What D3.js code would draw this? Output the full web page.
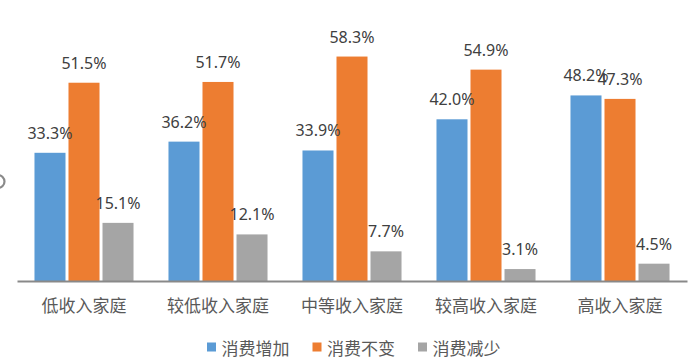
<!DOCTYPE html>
<html>
<head>
<meta charset="utf-8">
<script src="https://cdn.jsdelivr.net/npm/d3@7"></script>
<style>
  html, body { margin: 0; padding: 0; background: #fff; }
  svg { display: block; }
</style>
</head>
<body>
<svg id="chart" width="699" height="360"></svg>
<script>
const categories = ["低收入家庭", "较低收入家庭", "中等收入家庭", "较高收入家庭", "高收入家庭"];
const seriesNames = ["消费增加", "消费不变", "消费减少"];
const increase = [33.3, 36.2, 33.9, 42.0, 48.2];
const unchanged = [51.5, 51.7, 58.3, 54.9, 47.3];
const decrease = [15.1, 12.1, 7.7, 3.1, 4.5];
const colors = ["#5B9BD5", "#ED7D31", "#A5A5A5"];

const seriesValues = [increase, unchanged, decrease];
const data = categories.map((c, i) => ({
  category: c,
  values: seriesNames.map((s, j) => ({ series: s, value: seriesValues[j][i], color: colors[j] }))
}));

const svg = d3.select("#chart");
const left = 17, right = 687, baseY = 281, topY = 11.5;

const x0 = d3.scaleBand().domain(categories).range([left, right]).padding(0);
const x1 = d3.scaleBand().domain(seriesNames).range([0, x0.bandwidth()])
  .paddingInner(0.088).paddingOuter(0.514);
const y = d3.scaleLinear().domain([0, 70]).range([baseY, topY]);

// partial ring at left edge
svg.append("circle")
  .attr("cx", -2).attr("cy", 181.5).attr("r", 6.5)
  .attr("fill", "none").attr("stroke", "#8a8a8a").attr("stroke-width", 2.2);

const groups = svg.selectAll("g.grp").data(data).join("g")
  .attr("class", "grp")
  .attr("transform", d => `translate(${x0(d.category)},0)`);

groups.selectAll("rect").data(d => d.values).join("rect")
  .attr("x", d => x1(d.series))
  .attr("y", d => y(d.value))
  .attr("width", x1.bandwidth())
  .attr("height", d => baseY - y(d.value))
  .attr("fill", d => d.color);

groups.selectAll("text.lbl").data(d => d.values).join("text")
  .attr("class", "lbl")
  .attr("x", d => x1(d.series) + x1.bandwidth() / 2)
  .attr("y", d => y(d.value) - 14)
  .attr("text-anchor", "middle")
  .attr("font-family", "'Noto Sans', sans-serif")
  .attr("font-size", 16)
  .attr("fill", "#404040")
  .text(d => d.value.toFixed(1) + "%");

// x axis
const xAxis = d3.axisBottom(x0).tickSize(0).tickPadding(0);
const axisG = svg.append("g").attr("transform", `translate(0,${baseY})`).call(xAxis);
axisG.select(".domain").attr("stroke", "#898989").attr("stroke-width", 1.8);
axisG.selectAll(".tick text")
  .attr("y", 30.5).attr("dy", null)
  .attr("font-family", "'Noto Sans CJK SC', sans-serif")
  .attr("font-size", 17)
  .attr("fill", "#595959");

// legend
const legendX = d3.scalePoint().domain(seriesNames).range([207, 418]);
const lg = svg.selectAll("g.leg").data(seriesNames).join("g")
  .attr("class", "leg")
  .attr("transform", d => `translate(${legendX(d)},0)`);
lg.append("rect").attr("x", 0).attr("y", 342.5).attr("width", 9).attr("height", 9)
  .attr("fill", (d, i) => colors[i]);
lg.append("text").attr("x", 14.5).attr("y", 354.5)
  .attr("font-family", "'Noto Sans CJK SC', sans-serif")
  .attr("font-size", 17)
  .attr("fill", "#595959")
  .text(d => d);
</script>
</body>
</html>
